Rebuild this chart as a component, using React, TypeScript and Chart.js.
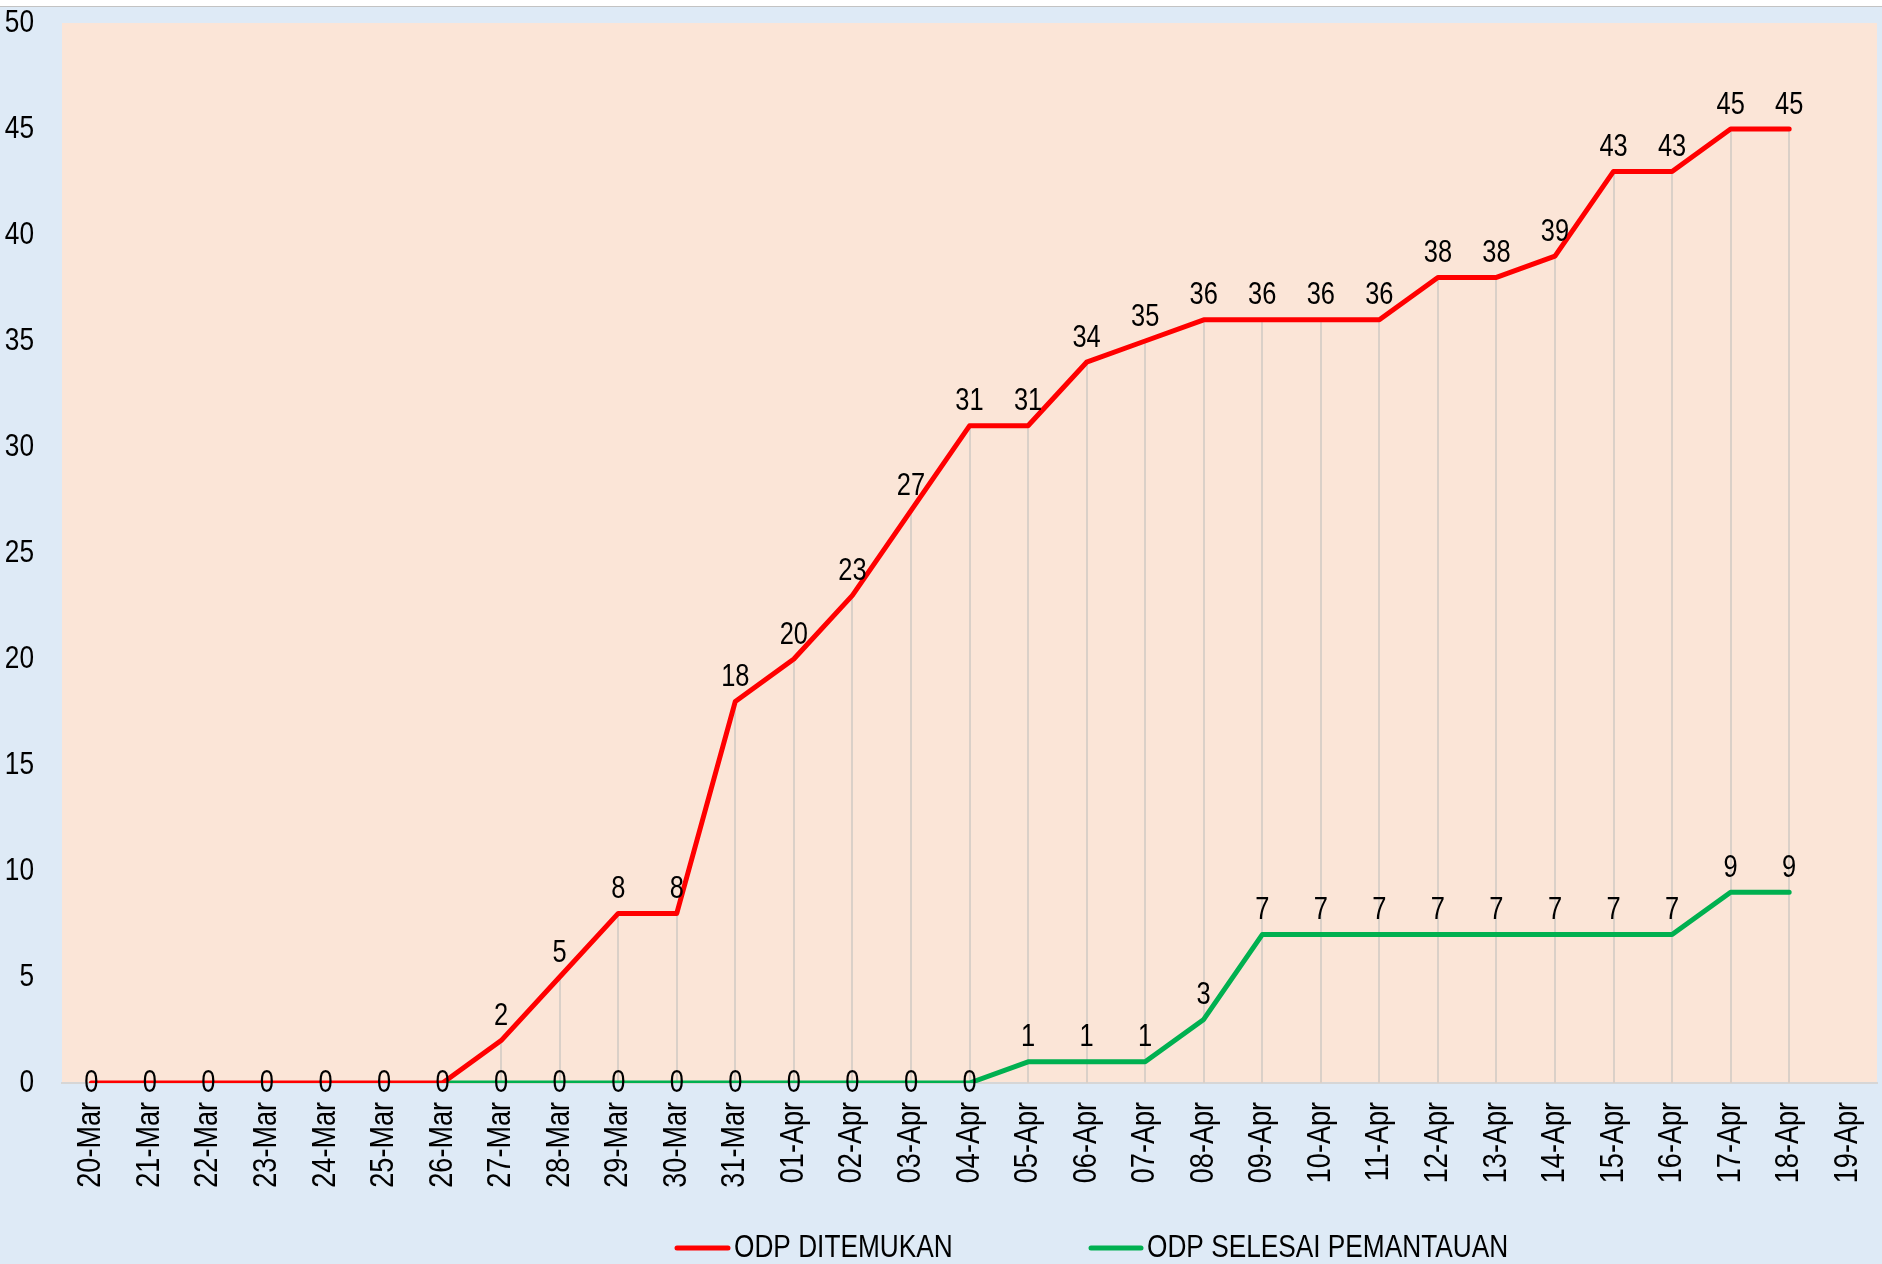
import React, { useEffect, useRef } from "react";
import { Chart, registerables } from "chart.js";

Chart.register(...registerables);

const categories = [
  "20-Mar", "21-Mar", "22-Mar", "23-Mar", "24-Mar", "25-Mar", "26-Mar", "27-Mar", "28-Mar", "29-Mar", "30-Mar", "31-Mar",
  "01-Apr", "02-Apr", "03-Apr", "04-Apr", "05-Apr", "06-Apr", "07-Apr", "08-Apr", "09-Apr", "10-Apr", "11-Apr",
  "12-Apr", "13-Apr", "14-Apr", "15-Apr", "16-Apr", "17-Apr", "18-Apr", "19-Apr",
];

const odpDitemukan: (number | null)[] = [
  0, 0, 0, 0, 0, 0, 0, 2, 5, 8, 8, 18,
  20, 23, 27, 31, 31, 34, 35, 36, 36, 36, 36,
  38, 38, 39, 43, 43, 45, 45, null,
];

const odpSelesai: (number | null)[] = [
  null, null, null, null, null, null, 0, 0, 0, 0, 0, 0,
  0, 0, 0, 0, 1, 1, 1, 3, 7, 7, 7,
  7, 7, 7, 7, 7, 9, 9, null,
];

const seriesNames = ["ODP DITEMUKAN", "ODP SELESAI PEMANTAUAN"];
const seriesColors = ["#FF0000", "#00B050"];
const yTickValues = [0, 5, 10, 15, 20, 25, 30, 35, 40, 45, 50];

const BASE_FONT = '"Liberation Sans", Arial, sans-serif';
const NARROW_SCALE = 0.82;

function drawNarrowText(
  ctx: CanvasRenderingContext2D,
  text: string,
  x: number,
  y: number,
  size: number,
  align: CanvasTextAlign,
  baseline: CanvasTextBaseline,
  rotate = false
) {
  ctx.save();
  ctx.translate(x, y);
  if (rotate) ctx.rotate(-Math.PI / 2);
  ctx.scale(NARROW_SCALE, 1);
  ctx.font = `${size}px ${BASE_FONT}`;
  ctx.fillStyle = "#000000";
  ctx.textAlign = align;
  ctx.textBaseline = baseline;
  ctx.fillText(text, 0, 0);
  ctx.restore();
}

const backgroundPlugin = {
  id: "bgPlugin",
  beforeDraw(chart: any) {
    const { ctx, width, height, chartArea } = chart;
    ctx.save();
    ctx.fillStyle = "#DEEAF6";
    ctx.fillRect(0, 0, width, height);
    ctx.fillStyle = "#FFFFFF";
    ctx.fillRect(0, 0, width, 6);
    ctx.fillStyle = "#C3C3C3";
    ctx.fillRect(0, 6, width, 1);
    ctx.fillStyle = "#FBE5D7";
    ctx.fillRect(chartArea.left, chartArea.top, chartArea.right - chartArea.left, chartArea.bottom - chartArea.top);
    ctx.restore();
  },
};

const dropLinesPlugin = {
  id: "dropLines",
  beforeDatasetsDraw(chart: any) {
    const { ctx, scales } = chart;
    const xs = scales.x;
    const ys = scales.y;
    const n = chart.data.labels.length;
    ctx.save();
    ctx.strokeStyle = "#DAD0C8";
    ctx.lineWidth = 2;
    for (let i = 0; i < n; i++) {
      let maxV: number | null = null;
      chart.data.datasets.forEach((ds: any) => {
        const v = ds.data[i];
        if (v !== null && v !== undefined && (maxV === null || v > maxV)) maxV = v;
      });
      if (maxV === null || maxV <= 0) continue;
      const x = Math.round(xs.getPixelForValue(i));
      ctx.beginPath();
      ctx.moveTo(x, ys.getPixelForValue(maxV));
      ctx.lineTo(x, ys.getPixelForValue(0));
      ctx.stroke();
    }
    ctx.restore();
  },
};

const axisLabelsPlugin = {
  id: "narrowAxisLabels",
  afterDraw(chart: any) {
    const { ctx, scales } = chart;
    const ys = scales.y;
    ys.ticks.forEach((t: any, i: number) => {
      const label = t.label !== undefined ? String(t.label) : String(t.value);
      drawNarrowText(ctx, label, ys.right - 28, ys.getPixelForTick(i), 32, "right", "middle");
    });
    const xs = scales.x;
    xs.ticks.forEach((t: any, i: number) => {
      const label = t.label !== undefined ? String(t.label) : String(categories[t.value]);
      drawNarrowText(ctx, label, xs.getPixelForTick(i), xs.top + 19, 33, "right", "middle", true);
    });
  },
};

const dataLabelsPlugin = {
  id: "dataLabels",
  afterDatasetsDraw(chart: any) {
    const { ctx } = chart;
    const drawn = new Set<string>();
    chart.data.datasets.forEach((ds: any, di: number) => {
      const meta = chart.getDatasetMeta(di);
      ds.data.forEach((v: number | null, i: number) => {
        if (v === null || v === undefined) return;
        const pt = meta.data[i];
        if (!pt) return;
        const y = v === 0 ? pt.y : pt.y - 24;
        const key = `${Math.round(pt.x)}_${Math.round(y)}`;
        if (drawn.has(key)) return;
        drawn.add(key);
        drawNarrowText(ctx, String(v), pt.x, y, 31, "center", "middle");
      });
    });
  },
};

const legendPlugin = {
  id: "customLegend",
  afterDraw(chart: any) {
    const { ctx } = chart;
    const items = [
      { lineStart: 675, lineEnd: 730, textX: 734 },
      { lineStart: 1089, lineEnd: 1143, textX: 1147 },
    ];
    const y = 1248;
    chart.data.datasets.forEach((ds: any, i: number) => {
      const it = items[i];
      ctx.save();
      ctx.strokeStyle = ds.borderColor;
      ctx.lineWidth = 5;
      ctx.lineCap = "round";
      ctx.beginPath();
      ctx.moveTo(it.lineStart + 2, y);
      ctx.lineTo(it.lineEnd - 2, y);
      ctx.stroke();
      ctx.restore();
      drawNarrowText(ctx, ds.label, it.textX, y, 32, "left", "middle");
    });
  },
};

export default function App() {
  const canvasRef = useRef<HTMLCanvasElement | null>(null);

  useEffect(() => {
    const canvas = canvasRef.current;
    if (!canvas) return;
    const chart = new Chart(canvas, {
      type: "line",
      data: {
        labels: categories,
        datasets: [
          {
            label: seriesNames[0],
            data: odpDitemukan,
            borderColor: seriesColors[0],
            backgroundColor: seriesColors[0],
            borderWidth: 5,
            pointRadius: 0,
            pointHoverRadius: 0,
            borderJoinStyle: "round",
            borderCapStyle: "round",
            tension: 0,
            spanGaps: false,
          },
          {
            label: seriesNames[1],
            data: odpSelesai,
            borderColor: seriesColors[1],
            backgroundColor: seriesColors[1],
            borderWidth: 5,
            pointRadius: 0,
            pointHoverRadius: 0,
            borderJoinStyle: "round",
            borderCapStyle: "round",
            tension: 0,
            spanGaps: false,
          },
        ],
      },
      options: {
        responsive: false,
        animation: false,
        devicePixelRatio: 1,
        layout: { padding: { top: 23, right: 5, left: 0, bottom: 0 } },
        plugins: {
          legend: { display: false },
          tooltip: { enabled: false },
          title: { display: false },
        },
        scales: {
          x: {
            type: "category",
            offset: true,
            grid: { display: false, drawTicks: false },
            border: { display: true, color: "#D6D6D6", width: 2 },
            ticks: { display: false, autoSkip: false },
            afterFit(scale: any) {
              scale.height = 181;
              scale.paddingLeft = 0;
              scale.paddingRight = 0;
            },
          },
          y: {
            min: 0,
            max: 50,
            grid: { display: false, drawTicks: false },
            border: { display: false },
            ticks: { display: false },
            afterBuildTicks(scale: any) {
              scale.ticks = yTickValues.map((v) => ({ value: v }));
            },
            afterFit(scale: any) {
              scale.width = 62;
              scale.paddingTop = 0;
              scale.paddingBottom = 0;
            },
          },
        },
      },
      plugins: [backgroundPlugin, dropLinesPlugin, dataLabelsPlugin, axisLabelsPlugin, legendPlugin],
    } as any);
    return () => chart.destroy();
  }, []);

  return (
    <>
      <style>{`body{margin:0;}`}</style>
      <canvas ref={canvasRef} width={1882} height={1264} style={{ display: "block" }} />
    </>
  );
}
